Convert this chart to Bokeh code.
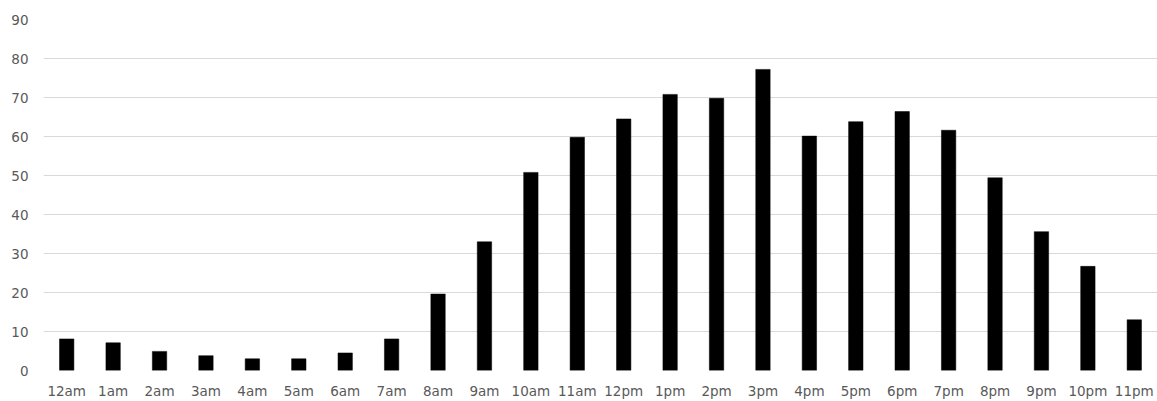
from bokeh.plotting import figure
from bokeh.models import FactorRange, Range1d, FixedTicker, ColumnDataSource
from bokeh.embed import file_html
from bokeh.resources import INLINE

hours = ["12am", "1am", "2am", "3am", "4am", "5am", "6am", "7am",
         "8am", "9am", "10am", "11am", "12pm", "1pm", "2pm", "3pm",
         "4pm", "5pm", "6pm", "7pm", "8pm", "9pm", "10pm", "11pm"]
counts = [8.1, 7.1, 4.9, 3.8, 3.0, 3.0, 4.5, 8.1,
          19.6, 33.0, 50.8, 59.8, 64.5, 70.8, 69.8, 77.2,
          60.1, 63.8, 66.4, 61.6, 49.4, 35.6, 26.7, 13.0]
y_ticks = [0, 10, 20, 30, 40, 50, 60, 70, 80, 90]

source = ColumnDataSource(data=dict(hour=hours, count=counts))

p = figure(
    width=1157, height=401,
    x_range=FactorRange(*hours, range_padding=0),
    y_range=Range1d(0, 90),
    output_backend="svg", toolbar_location=None,
    min_border_left=43, min_border_right=0,
    min_border_top=19, min_border_bottom=31,
)

p.vbar(x="hour", top="count", width=0.31, source=source,
       fill_color="black", line_color="black", line_width=0.5)

p.outline_line_color = None
p.background_fill_color = "white"
p.border_fill_color = "white"

p.xgrid.grid_line_color = None
p.ygrid.grid_line_color = "#d9d9d9"
p.ygrid.grid_line_width = 1
p.yaxis.ticker = FixedTicker(ticks=y_ticks)

for ax in (p.xaxis, p.yaxis):
    ax.axis_line_color = None
    ax.major_tick_line_color = None
    ax.minor_tick_line_color = None
    ax.major_tick_out = 0
    ax.major_tick_in = 0
    ax.major_label_text_font = "DejaVu Sans"
    ax.major_label_text_font_size = "13.5px"
    ax.major_label_text_color = "#595959"

p.yaxis.major_label_standoff = 15
p.xaxis.major_label_standoff = 12

open("out.html", "w").write(file_html(p, INLINE))
